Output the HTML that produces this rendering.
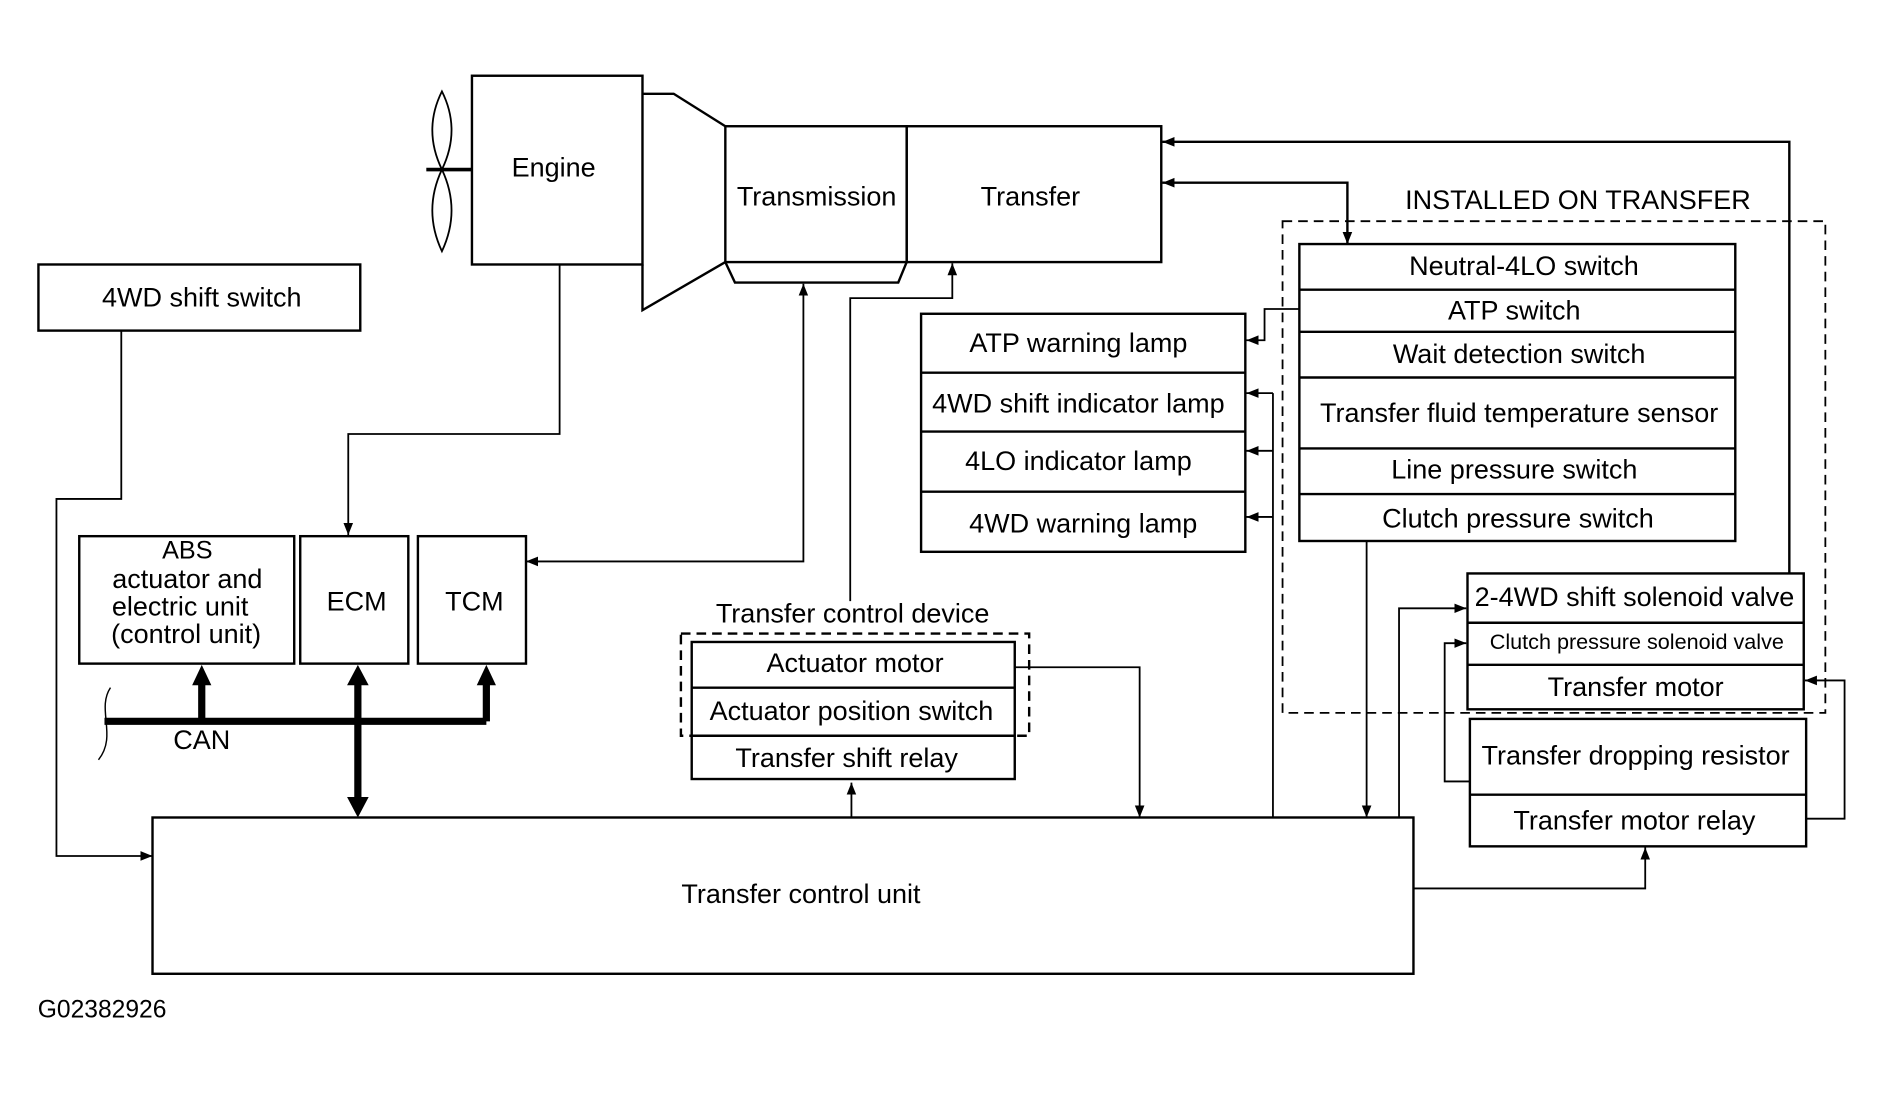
<!DOCTYPE html>
<html><head><meta charset="utf-8"><style>
html,body{margin:0;padding:0;background:#fff;}
svg{display:block;}
text{font-family:"Liberation Sans",sans-serif;font-size:22.5px;fill:#000;text-anchor:middle;dominant-baseline:middle;}
</style></head><body>
<svg width="1883" height="1094" viewBox="0 0 1568 910" preserveAspectRatio="none" xmlns="http://www.w3.org/2000/svg">
<defs>
<marker id="a" viewBox="0 0 10 10" refX="10" refY="5" markerWidth="10" markerHeight="10" markerUnits="userSpaceOnUse" orient="auto-start-reverse"><path d="M0,1 L10,5 L0,9 z"/></marker>
</defs>
<g fill="none" stroke="#000" stroke-width="2">
<path d="M368,76 Q384,108 368,141 Q352,108 368,76 z" stroke-width="1.5"/>
<path d="M368,141 Q384,175 368,209 Q352,175 368,141 z" stroke-width="1.5"/>
<line x1="355" y1="141" x2="393" y2="141" stroke-width="3"/>
<rect x="393" y="63" width="142" height="157"/>
<polyline points="535,78 561,78 604,105"/>
<polyline points="535,220 535,258 604,218"/>
<rect x="604" y="105" width="151" height="113"/>
<rect x="755" y="105" width="212" height="113"/>
<polyline points="604,218 612,235 748,235 755,218"/>
<rect x="32" y="220" width="268" height="55"/>
<polyline points="101,275 101,415 47,415 47,712 127,712" stroke-width="1.5" marker-end="url(#a)"/>
<polyline points="466,220 466,361 290,361 290,445" stroke-width="1.5" marker-end="url(#a)"/>
<rect x="66" y="446" width="179" height="106"/>
<rect x="250" y="446" width="90" height="106"/>
<rect x="348" y="446" width="90" height="106"/>
<polyline points="669,236 669,467 438,467" stroke-width="1.5" marker-end="url(#a)" marker-start="url(#a)"/>
<polyline points="708,500 708,248 793,248 793,219" stroke-width="1.5" marker-end="url(#a)"/>
<line x1="87" y1="600" x2="405" y2="600" stroke-width="6"/>
<line x1="168" y1="600" x2="168" y2="568" stroke-width="6"/>
<line x1="405" y1="600" x2="405" y2="568" stroke-width="6"/>
<line x1="298" y1="568" x2="298" y2="664" stroke-width="6"/>
<path d="M168,553 L160,570 L176,570 z M405,553 L397,570 L413,570 z M298,553 L289,570 L307,570 z M298,680 L289,663 L307,663 z" fill="#000" stroke="none"/>
<path d="M92,572 C80,590 98,612 82,632" stroke-width="1.2"/>
<rect x="567" y="527" width="290" height="85" stroke-dasharray="8,5"/>
<rect x="576" y="534" width="269" height="114"/>
<line x1="576" y1="572" x2="845" y2="572"/>
<line x1="576" y1="612" x2="845" y2="612"/>
<polyline points="709,680 709,651" stroke-width="1.5" marker-end="url(#a)"/>
<polyline points="845,555 949,555 949,680" stroke-width="1.5" marker-end="url(#a)"/>
<rect x="127" y="680" width="1050" height="130"/>
<rect x="767" y="261" width="270" height="198"/>
<line x1="767" y1="310" x2="1037" y2="310"/>
<line x1="767" y1="359" x2="1037" y2="359"/>
<line x1="767" y1="409" x2="1037" y2="409"/>
<rect x="1068" y="184" width="452" height="409" stroke-dasharray="8,5" stroke-width="1.5"/>
<rect x="1082" y="203" width="363" height="247"/>
<line x1="1082" y1="241" x2="1445" y2="241"/>
<line x1="1082" y1="276" x2="1445" y2="276"/>
<line x1="1082" y1="314" x2="1445" y2="314"/>
<line x1="1082" y1="373" x2="1445" y2="373"/>
<line x1="1082" y1="411" x2="1445" y2="411"/>
<polyline points="1490,477 1490,118 968,118" stroke-width="2" marker-end="url(#a)"/>
<polyline points="968,152 1122,152 1122,203" stroke-width="2" marker-end="url(#a)" marker-start="url(#a)"/>
<polyline points="1082,257 1053,257 1053,283 1038,283" stroke-width="1.5" marker-end="url(#a)"/>
<line x1="1060" y1="680" x2="1060" y2="327" stroke-width="1.5"/>
<line x1="1060" y1="327" x2="1038" y2="327" stroke-width="1.5" marker-end="url(#a)"/>
<line x1="1060" y1="375" x2="1038" y2="375" stroke-width="1.5" marker-end="url(#a)"/>
<line x1="1060" y1="430" x2="1038" y2="430" stroke-width="1.5" marker-end="url(#a)"/>
<line x1="1138" y1="450" x2="1138" y2="680" stroke-width="1.5" marker-end="url(#a)"/>
<rect x="1222" y="477" width="280" height="113"/>
<line x1="1222" y1="518" x2="1502" y2="518"/>
<line x1="1222" y1="553" x2="1502" y2="553"/>
<polyline points="1165,680 1165,506 1221,506" stroke-width="1.5" marker-end="url(#a)"/>
<polyline points="1224,650 1203,650 1203,535 1221,535" stroke-width="1.5" marker-end="url(#a)"/>
<rect x="1224" y="598" width="280" height="106"/>
<line x1="1224" y1="661" x2="1504" y2="661"/>
<polyline points="1504,681 1536,681 1536,566 1503,566" stroke-width="1.5" marker-end="url(#a)"/>
<polyline points="1177,739 1370,739 1370,705" stroke-width="1.5" marker-end="url(#a)"/>
</g>
<text x="461" y="141">Engine</text>
<text x="680" y="165">Transmission</text>
<text x="858" y="165">Transfer</text>
<text x="168" y="249">4WD shift switch</text>
<text x="156" y="459" style="font-size:21px">ABS</text>
<text x="156" y="483">actuator and</text>
<text x="150" y="506">electric unit</text>
<text x="155" y="529">(control unit)</text>
<text x="297" y="502">ECM</text>
<text x="395" y="502">TCM</text>
<text x="168" y="617">CAN</text>
<text x="710" y="512">Transfer control device</text>
<text x="712" y="553">Actuator motor</text>
<text x="709" y="593">Actuator position switch</text>
<text x="705" y="632">Transfer shift relay</text>
<text x="667" y="745">Transfer control unit</text>
<text x="85" y="841" style="font-size:20.5px">G02382926</text>
<text x="898" y="287">ATP warning lamp</text>
<text x="898" y="337">4WD shift indicator lamp</text>
<text x="898" y="385">4LO indicator lamp</text>
<text x="902" y="437">4WD warning lamp</text>
<text x="1314" y="168">INSTALLED ON TRANSFER</text>
<text x="1269" y="223">Neutral-4LO switch</text>
<text x="1261" y="260">ATP switch</text>
<text x="1265" y="296">Wait detection switch</text>
<text x="1265" y="345">Transfer fluid temperature sensor</text>
<text x="1261" y="392">Line pressure switch</text>
<text x="1264" y="433">Clutch pressure switch</text>
<text x="1361" y="498">2-4WD shift solenoid valve</text>
<text x="1363" y="535" style="font-size:18px">Clutch pressure solenoid valve</text>
<text x="1362" y="573">Transfer motor</text>
<text x="1362" y="630">Transfer dropping resistor</text>
<text x="1361" y="684">Transfer motor relay</text>
</svg>
</body></html>
